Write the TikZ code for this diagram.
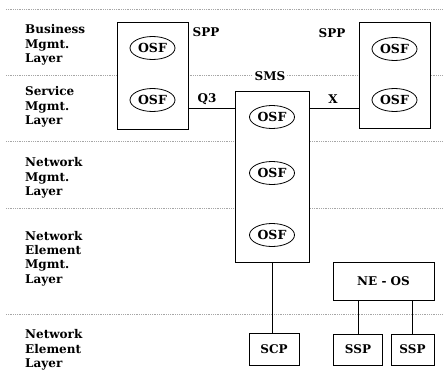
\documentclass[tikz,border=0pt]{standalone}
\usepackage{fontspec}
\setmainfont{DejaVu Serif}
\usetikzlibrary{shapes.geometric}
\begin{document}
\begin{tikzpicture}[x=1pt,y=-1pt,
  every node/.style={font=\fontsize{12}{14.3}\selectfont\bfseries, inner sep=0pt},
  layerline/.style={line width=0.6pt, gray!70, dash pattern=on 1pt off 0.8pt},
  box/.style={draw, line width=0.8pt},
  osf/.style={draw, ellipse, line width=0.8pt, minimum width=45pt, minimum height=23pt, font=\fontsize{12.5}{14}\selectfont\bfseries},
  lbl/.style={anchor=west, align=left}]
\useasboundingbox (0,0) rectangle (444,383);
% layer separators
\foreach \yy/\nm in {9/la,75/lb,141/lc,208/ld,314/le}{
  \coordinate (\nm w) at (6,\yy);
  \coordinate (\nm e) at (443,\yy);
  \draw[layerline] (\nm w) -- (\nm e);
}
% layer labels
\node[lbl] (l1) at (25,45) {Business\\Mgmt.\\Layer};
\node[lbl] (l2) at (25,107) {Service\\Mgmt.\\Layer};
\node[lbl] (l3) at (25,178) {Network\\Mgmt.\\Layer};
\node[lbl] (l4) at (25,258.5) {Network\\Element\\Mgmt.\\Layer};
\node[lbl] (l5) at (25,350) {Network\\Element\\Layer};
% boxes
\node[box, fill=white, minimum width=71pt, minimum height=107pt] (sppl) at (152.5,75.5) {};
\node[box, fill=white, minimum width=71pt, minimum height=106pt] (sppr) at (394.5,75) {};
\node[box, fill=white, minimum width=74pt, minimum height=171pt] (sms) at (272,176.5) {};
% OSFs
\node[osf] (o1) at (152.5,48) {OSF};
\node[osf] (o2) at (152.5,100) {OSF};
\node[osf] (o3) at (394.5,49) {OSF};
\node[osf] (o4) at (394.5,100) {OSF};
\node[osf] (o5) at (272,117) {OSF};
\node[osf] (o6) at (272,173) {OSF};
\node[osf] (o7) at (272,235) {OSF};
% labels
\node (tspl) at (206,32) {SPP};
\node (tspr) at (332,33) {SPP};
\node[fill=white, inner xsep=2pt, inner ysep=1pt] (tsms) at (270,76) {SMS};
\node (tq3) at (207,99) {Q3};
\node (tx) at (333,99) {X};
% interfaces
\coordinate (q3a) at (sppl.east |- 0,108);
\coordinate (q3b) at (sms.west |- 0,108);
\draw[line width=0.8pt] (q3a) -- (q3b);
\coordinate (xa) at (sms.east |- 0,108);
\coordinate (xb) at (sppr.west |- 0,108);
\draw[line width=0.8pt] (xa) -- (xb);
% NE layer
\node[box, minimum width=50pt, minimum height=32pt] (scp) at (274,349) {SCP};
\node[box, minimum width=101pt, minimum height=38pt] (neos) at (383.5,281) {NE - OS};
\node[box, minimum width=49pt, minimum height=31pt] (ssp1) at (358,349.5) {SSP};
\node[box, minimum width=43pt, minimum height=31pt] (ssp2) at (412.5,349.5) {SSP};
\draw[line width=0.8pt] (sms.south) -- (sms.south |- scp.north);
\draw[line width=0.8pt] (ssp1.north |- neos.south) -- (ssp1.north);
\draw[line width=0.8pt] (ssp2.north |- neos.south) -- (ssp2.north);
\end{tikzpicture}
\end{document}
